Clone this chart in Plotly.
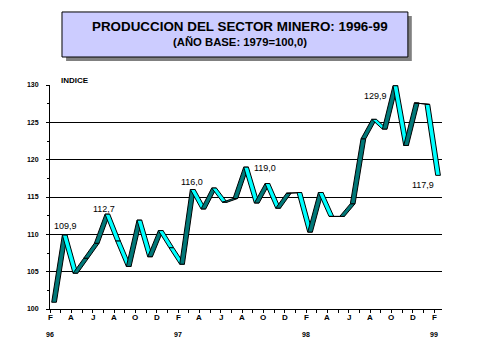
import plotly.graph_objects as go

# ---- data ----
months = list(range(37))  # Feb 1996 ... Feb 1999
values = [100.9, 109.9, 104.8, 106.8, 108.8, 112.7, 109.1, 105.7, 111.9, 107.0,
          110.5, 108.2, 106.0, 116.0, 113.4, 116.2, 114.3, 114.8, 119.0, 114.2,
          116.8, 113.5, 115.5, 115.6, 110.3, 115.6, 112.4, 112.4, 114.1, 122.8,
          125.4, 124.1, 129.9, 121.9, 127.6, 127.4, 117.9]
tick_letters = ["F", "A", "J", "A", "O", "D"] * 3 + ["F"]
tick_pos = list(range(0, 37, 2))
year_labels = ["96", "97", "98", "99"]
year_pos = [0, 12, 24, 36]
labeled_idx = [1, 5, 13, 18, 32, 36]
label_shift = [(5, 9), (1, 5), (3, 8), (23, -1), (-16, -10), (-11, -10)]

title1 = "PRODUCCION DEL SECTOR MINERO: 1996-99"
title2 = "(AÑO BASE: 1979=100,0)"

# ---- style ----
FRONT, BACK = 0.16, 0.6  # ribbon depth (months)
DARK, LIGHT = "#007878", "#00FFFF"
FONT = "Liberation Sans, Arial, sans-serif"

fig = go.Figure()
for i in range(len(values) - 1):
    x0, x1 = months[i], months[i + 1]
    y0, y1 = values[i], values[i + 1]
    col = DARK if y1 >= y0 else LIGHT
    fig.add_trace(go.Scatter(
        x=[x0 + FRONT, x1 + FRONT, x1 + BACK, x0 + BACK, x0 + FRONT],
        y=[y0, y1, y1, y0, y0],
        mode="lines", fill="toself", fillcolor=col,
        line=dict(color="black", width=1),
        hoverinfo="skip", showlegend=False))

annotations = []
for (i, (dx, dy)) in zip(labeled_idx, label_shift):
    annotations.append(dict(
        x=months[i], y=values[i], xref="x", yref="y",
        text=f"{values[i]:.1f}".replace(".", ","), showarrow=False,
        xshift=dx, yshift=dy, font=dict(family=FONT, size=9, color="black")))

for t, xp in zip(tick_letters, tick_pos):
    annotations.append(dict(
        x=xp, y=-0.040, xref="x", yref="paper", text=f"<b>{t}</b>",
        showarrow=False, yanchor="middle",
        font=dict(family=FONT, size=8, color="black")))

for yl, xp in zip(year_labels, year_pos):
    annotations.append(dict(
        x=xp, y=-0.116, xref="x", yref="paper", text=f"<b>{yl}</b>",
        showarrow=False, yanchor="middle",
        font=dict(family=FONT, size=7, color="black")))

annotations += [
    dict(x=0.485, y=1.263, xref="paper", yref="paper", text=f"<b>{title1}</b>",
         showarrow=False, yanchor="middle",
         font=dict(family=FONT, size=13.4, color="black")),
    dict(x=0.485, y=1.192, xref="paper", yref="paper", text=f"<b>{title2}</b>",
         showarrow=False, yanchor="middle",
         font=dict(family=FONT, size=11.3, color="black")),
    dict(x=0.023, y=1.022, xref="paper", yref="paper", text="<b>INDICE</b>",
         xanchor="left", yanchor="middle", showarrow=False,
         font=dict(family=FONT, size=8, color="black")),
]

shapes = [
    dict(type="rect", xref="paper", yref="paper",
         x0=0.041, x1=0.923, y0=1.107, y1=1.308,
         fillcolor="#808080", line=dict(width=0), layer="above"),
    dict(type="rect", xref="paper", yref="paper",
         x0=0.0306, x1=0.913, y0=1.125, y1=1.326,
         fillcolor="#CCCCFF", line=dict(color="black", width=1), layer="above"),
]

# page body has an 8px default margin, so the figure is sized to compensate
fig.update_layout(
    width=471, height=351,
    margin=dict(l=42, r=37, t=77, b=50),
    paper_bgcolor="white", plot_bgcolor="white",
    showlegend=False,
    annotations=annotations, shapes=shapes,
    xaxis=dict(range=[0, 36.75], tickmode="array",
               tickvals=months, ticktext=["" for _ in months],
               ticks="outside", ticklen=3, tickcolor="black",
               showline=True, linecolor="black", linewidth=1,
               showgrid=False, zeroline=False,
               tickfont=dict(family=FONT, size=8, color="black")),
    yaxis=dict(range=[100, 130], tickmode="array",
               tickvals=[100, 105, 110, 115, 120, 125, 130],
               ticktext=["<b>100</b>", "<b>105</b>", "<b>110</b>", "<b>115</b>",
                         "<b>120</b>", "<b>125</b>", "<b>130</b>"],
               ticks="outside", ticklen=3, tickcolor="black",
               minor=dict(dtick=2.5, tick0=100, ticks="outside", ticklen=2,
                          tickcolor="black", showgrid=False),
               showline=True, linecolor="black", linewidth=1,
               showgrid=True, gridcolor="black", gridwidth=1,
               zeroline=False, ticklabelstandoff=6,
               tickfont=dict(family=FONT, size=7, color="black")),
)

fig.write_html("out.html")
